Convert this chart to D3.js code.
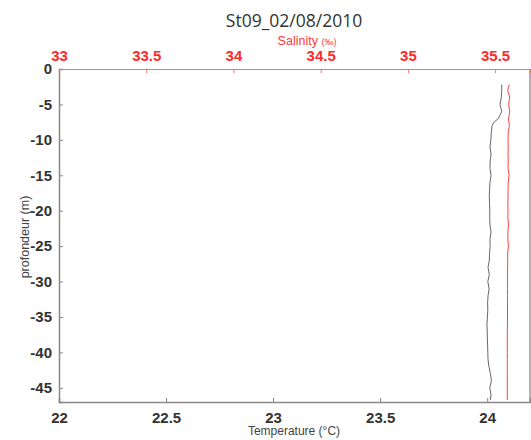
<!DOCTYPE html>
<html>
<head>
<meta charset="utf-8">
<script src="https://cdn.jsdelivr.net/npm/d3@7"></script>
<style>
  body { margin: 0; background: #fff; }
  svg { display: block; }
</style>
</head>
<body>
<div id="chart"></div>
<script>
var svgWidth = 531;
var svgHeight = 440;

var margin = { top: 69, right: 1, bottom: 38, left: 59 };
var width = svgWidth - margin.left - margin.right;
var height = svgHeight - margin.top - margin.bottom;

// depth (m, positive down) shared by both profiles
var depth = [2.2, 3, 4, 5, 6, 7, 7.5, 8, 9, 10, 11, 12, 13, 14, 15, 16, 17, 18, 19, 20,
  21, 22, 23, 24, 25, 26, 27, 28, 29, 30, 31, 32, 33, 34, 35, 36, 37, 38, 39, 40,
  41, 42, 43, 44, 45, 46, 46.7];
var temperature = [24.068, 24.068, 24.066, 24.060, 24.068, 24.052, 24.032, 24.023, 24.019, 24.017,
  24.013, 24.018, 24.014, 24.013, 24.018, 24.013, 24.011, 24.010, 24.011, 24.012,
  24.012, 24.013, 24.018, 24.013, 24.014, 24.011, 24.010, 24.004, 24.010, 24.003,
  24.009, 24.004, 24.002, 24.003, 24.001, 23.999, 24.000, 24.001, 24.002, 24.003,
  24.004, 24.008, 24.015, 24.020, 24.012, 24.018, 24.015];
var salinity = [35.581, 35.572, 35.584, 35.577, 35.584, 35.577, 35.579, 35.582, 35.575, 35.574,
  35.575, 35.574, 35.575, 35.574, 35.580, 35.575, 35.574, 35.574, 35.573, 35.574,
  35.573, 35.577, 35.573, 35.573, 35.576, 35.572, 35.572, 35.572, 35.571, 35.571,
  35.571, 35.571, 35.571, 35.571, 35.571, 35.571, 35.570, 35.570, 35.570, 35.570,
  35.570, 35.570, 35.570, 35.570, 35.570, 35.570, 35.570];

var tempTicks = [22, 22.5, 23, 23.5, 24];
var salTicks = [33, 33.5, 34, 34.5, 35, 35.5];
var depthTicks = [0, -5, -10, -15, -20, -25, -30, -35, -40, -45];

var svg = d3.select("#chart")
  .append("svg")
  .attr("width", svgWidth)
  .attr("height", svgHeight);

var chartGroup = svg.append("g")
  .attr("transform", `translate(${margin.left}, ${margin.top})`);

var xTemp = d3.scaleLinear().domain([22, 24.2]).range([0, width]);
var xSal = d3.scaleLinear().domain([33, 35.7]).range([0, width]);
var yDepth = d3.scaleLinear().domain([-47, 0]).range([height, 0]);

var plain = d => String(d);   // keep ascii hyphen for negatives

// frame
chartGroup.append("line")
  .attr("x1", width).attr("x2", width).attr("y1", 0).attr("y2", height)
  .attr("stroke", "#999").attr("stroke-width", 1.5);

// bottom axis (temperature)
var bottomAxis = d3.axisBottom(xTemp).tickValues(tempTicks).tickSize(-4).tickPadding(10)
  .tickFormat(plain);
var gx = chartGroup.append("g")
  .attr("transform", `translate(0, ${height})`)
  .call(bottomAxis);
gx.select(".domain").attr("stroke", "#888").attr("stroke-width", 1.5);
gx.selectAll(".tick line").attr("stroke", "#888");
gx.selectAll(".tick text")
  .attr("fill", "#333").style("font-family", "Liberation Sans, Arial, sans-serif")
  .style("font-size", "15px").style("font-weight", "bold");

// left axis (depth)
var leftAxis = d3.axisLeft(yDepth).tickValues(depthTicks).tickSize(-4).tickPadding(7)
  .tickFormat(plain);
var gy = chartGroup.append("g").call(leftAxis);
gy.select(".domain").attr("stroke", "#888").attr("stroke-width", 1.5);
gy.selectAll(".tick line").attr("stroke", "#888");
gy.selectAll(".tick text")
  .attr("fill", "#333").style("font-family", "Liberation Sans, Arial, sans-serif")
  .style("font-size", "15px").style("font-weight", "bold");

// top axis (salinity)
var topAxis = d3.axisTop(xSal).tickValues(salTicks).tickSize(-4).tickPadding(8)
  .tickFormat(plain);
var gt = chartGroup.append("g").call(topAxis);
gt.select(".domain").attr("stroke", "#ff6a6a").attr("stroke-width", 1.2);
gt.selectAll(".tick line").attr("stroke", "#ff6a6a");
gt.selectAll(".tick text")
  .attr("fill", "#ff2a2a").style("font-family", "Liberation Sans, Arial, sans-serif")
  .style("font-size", "15px").style("font-weight", "bold");

// profiles
var rows = depth.map((d, i) => ({ depth: -d, temp: temperature[i], sal: salinity[i] }));

chartGroup.append("path")
  .datum(rows)
  .attr("fill", "none")
  .attr("stroke", "#666")
  .attr("stroke-width", 1)
  .attr("d", d3.line().x(r => xTemp(r.temp)).y(r => yDepth(r.depth)));

chartGroup.append("path")
  .datum(rows)
  .attr("fill", "none")
  .attr("stroke", "#ff4040")
  .attr("stroke-width", 1)
  .attr("d", d3.line().x(r => xSal(r.sal)).y(r => yDepth(r.depth)));

// titles
svg.append("text")
  .attr("x", 294).attr("y", 27)
  .attr("text-anchor", "middle")
  .style("font-family", "Open Sans, sans-serif")
  .style("font-size", "17.5px")
  .attr("fill", "#333")
  .text("St09_02/08/2010");

var salLabel = svg.append("text")
  .attr("x", 307).attr("y", 45)
  .attr("text-anchor", "middle")
  .style("font-family", "Liberation Sans, Arial, sans-serif")
  .attr("fill", "#ff3a3a");
salLabel.append("tspan").style("font-size", "12.5px").text("Salinity ");
salLabel.append("tspan").style("font-size", "9px").text("(‰)");

svg.append("text")
  .attr("x", 294).attr("y", 435)
  .attr("text-anchor", "middle")
  .style("font-family", "Liberation Sans, Arial, sans-serif")
  .style("font-size", "12px")
  .attr("fill", "#444")
  .text("Temperature (°C)");

svg.append("text")
  .attr("transform", "translate(29, 237) rotate(-90)")
  .attr("text-anchor", "middle")
  .style("font-family", "Liberation Sans, Arial, sans-serif")
  .style("font-size", "12.5px")
  .attr("fill", "#444")
  .text("profondeur (m)");
</script>
</body>
</html>
